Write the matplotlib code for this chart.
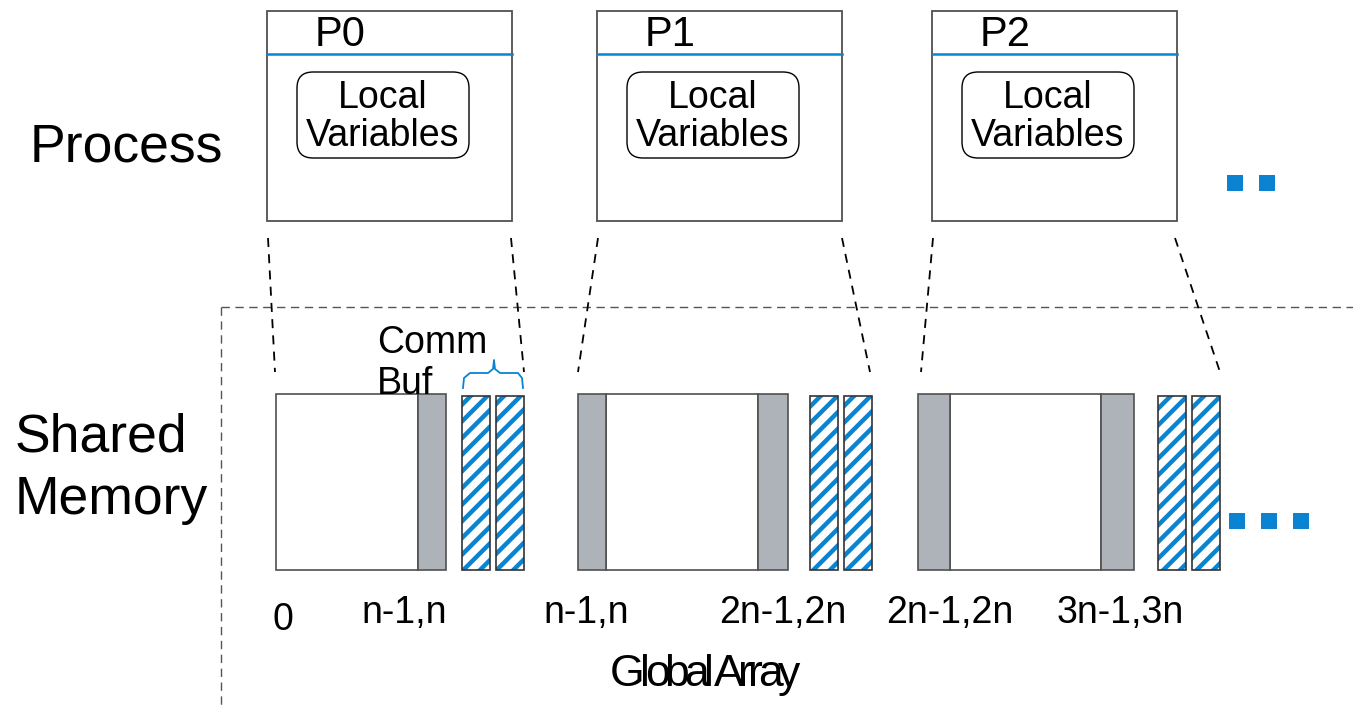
import matplotlib.pyplot as plt
from matplotlib.patches import Rectangle, FancyBboxPatch

plt.rcParams['font.family'] = ['Liberation Sans', 'DejaVu Sans']
plt.rcParams['hatch.linewidth'] = 3.2

BLUE = '#0a84d0'
GREY = '#adb3b9'
EDGE = '#505050'

# processes (top row)
process_names = ['P0', 'P1', 'P2']
process_left = [267, 597, 932]
process_width = 245

# memory blocks: white body, grey halos and comm buffers per block
white_spans = [(276, 418), (606, 758), (950, 1101)]
grey_spans = [[(418, 446)], [(578, 606), (758, 788)], [(918, 950), (1101, 1134)]]
buf_spans = [[(462, 490), (496, 524)], [(810, 838), (844, 872)], [(1158, 1186), (1192, 1220)]]

# dashed connector lines: (x_top, x_bottom) for left/right of each process
connectors = [((268, 275), (511, 524)), ((598, 578), (842, 870)), ((933, 921), (1175, 1220))]

offset_labels = ['0', 'n-1,n', 'n-1,n', '2n-1,2n', '2n-1,2n', '3n-1,3n']
offset_x = [283, 404, 586, 783, 950, 1120]
offset_y = [620, 613, 613, 613, 613, 613]

axis_title = 'Global Array'

fig = plt.figure(figsize=(13.53, 7.09), dpi=100)
ax = fig.add_axes([0, 0, 1, 1])
ax.set_xlim(0, 1353)
ax.set_ylim(709, 0)
ax.axis('off')

# process boxes
for name, x0 in zip(process_names, process_left):
    ax.add_patch(Rectangle((x0, 11), process_width, 210, fill=False, ec=EDGE, lw=1.3))
    ax.plot([x0, x0 + process_width], [54, 54], color=BLUE, lw=1.8)
    ax.text(x0 + 73, 35, name, fontsize=30, ha='center', va='center')
    ax.add_patch(FancyBboxPatch((x0 + 30, 72), 172, 86, boxstyle='round,pad=0,rounding_size=16',
                                fill=False, ec='black', lw=1.0))
    ax.text(x0 + 116, 98, 'Local', fontsize=27, ha='center', va='center')
    ax.text(x0 + 116, 136, 'Variables', fontsize=27, ha='center', va='center')

ax.text(30, 148, 'Process', fontsize=38.5, ha='left', va='center')
ax.text(15, 437, 'Shared', fontsize=38.5, ha='left', va='center')
ax.text(15, 500, 'Memory', fontsize=38.5, ha='left', va='center')

# separator
ax.plot([221, 1353], [307, 307], color='#555555', lw=1.0, ls=(0, (6, 4)))
ax.plot([221, 221], [307, 709], color='#555555', lw=1.0, ls=(0, (6, 4)))

# connectors
for (lt, lb), (rt, rb) in connectors:
    ax.plot([lt, lb], [238, 372], color='black', lw=1.3, ls=(0, (5, 4)))
    ax.plot([rt, rb], [238, 372], color='black', lw=1.3, ls=(0, (5, 4)))

# memory blocks
for (wx0, wx1), greys, bufs in zip(white_spans, grey_spans, buf_spans):
    ax.add_patch(Rectangle((wx0, 394), wx1 - wx0, 176, fc='white', ec=EDGE, lw=1.2))
    for gx0, gx1 in greys:
        ax.add_patch(Rectangle((gx0, 394), gx1 - gx0, 176, fc=GREY, ec=EDGE, lw=1.2))
    for bx0, bx1 in bufs:
        ax.add_patch(Rectangle((bx0, 396), bx1 - bx0, 174, fc='white', ec=BLUE, lw=0, hatch='//'))
        ax.add_patch(Rectangle((bx0, 396), bx1 - bx0, 174, fill=False, ec='#333333', lw=1.2))

# comm buffer brace
ax.plot([463, 464, 470, 488, 493, 494, 495, 500, 518, 522, 523],
        [388, 378, 373, 373, 369, 360, 369, 373, 373, 378, 388], color=BLUE, lw=1.3)
ax.text(377, 343, 'Comm', fontsize=27, ha='left', va='center')
ax.text(377, 384, 'Buf', fontsize=27, ha='left', va='center')

for lab, x, y in zip(offset_labels, offset_x, offset_y):
    ax.text(x, y, lab, fontsize=27, ha='center', va='center')

# tightly tracked title, one character at a time
renderer = fig.canvas.get_renderer()
widths = []
for ch in axis_title:
    t = ax.text(0, 0, ch if ch != ' ' else 'i', fontsize=32)
    widths.append(t.get_window_extent(renderer).width)
    t.remove()
track = 5.0
total = sum(widths) - track * (len(widths) - 1)
x = 705 - total / 2
for ch, w in zip(axis_title, widths):
    if ch != ' ':
        ax.text(x, 675, ch, fontsize=32, ha='left', va='center')
    x += w - track

# ellipsis squares
for x in [1227, 1259]:
    ax.add_patch(Rectangle((x, 175), 16, 16, fc=BLUE, ec='none'))
for x in [1229, 1261, 1293]:
    ax.add_patch(Rectangle((x, 513), 16, 16, fc=BLUE, ec='none'))

fig.savefig('out.png', dpi=100)
